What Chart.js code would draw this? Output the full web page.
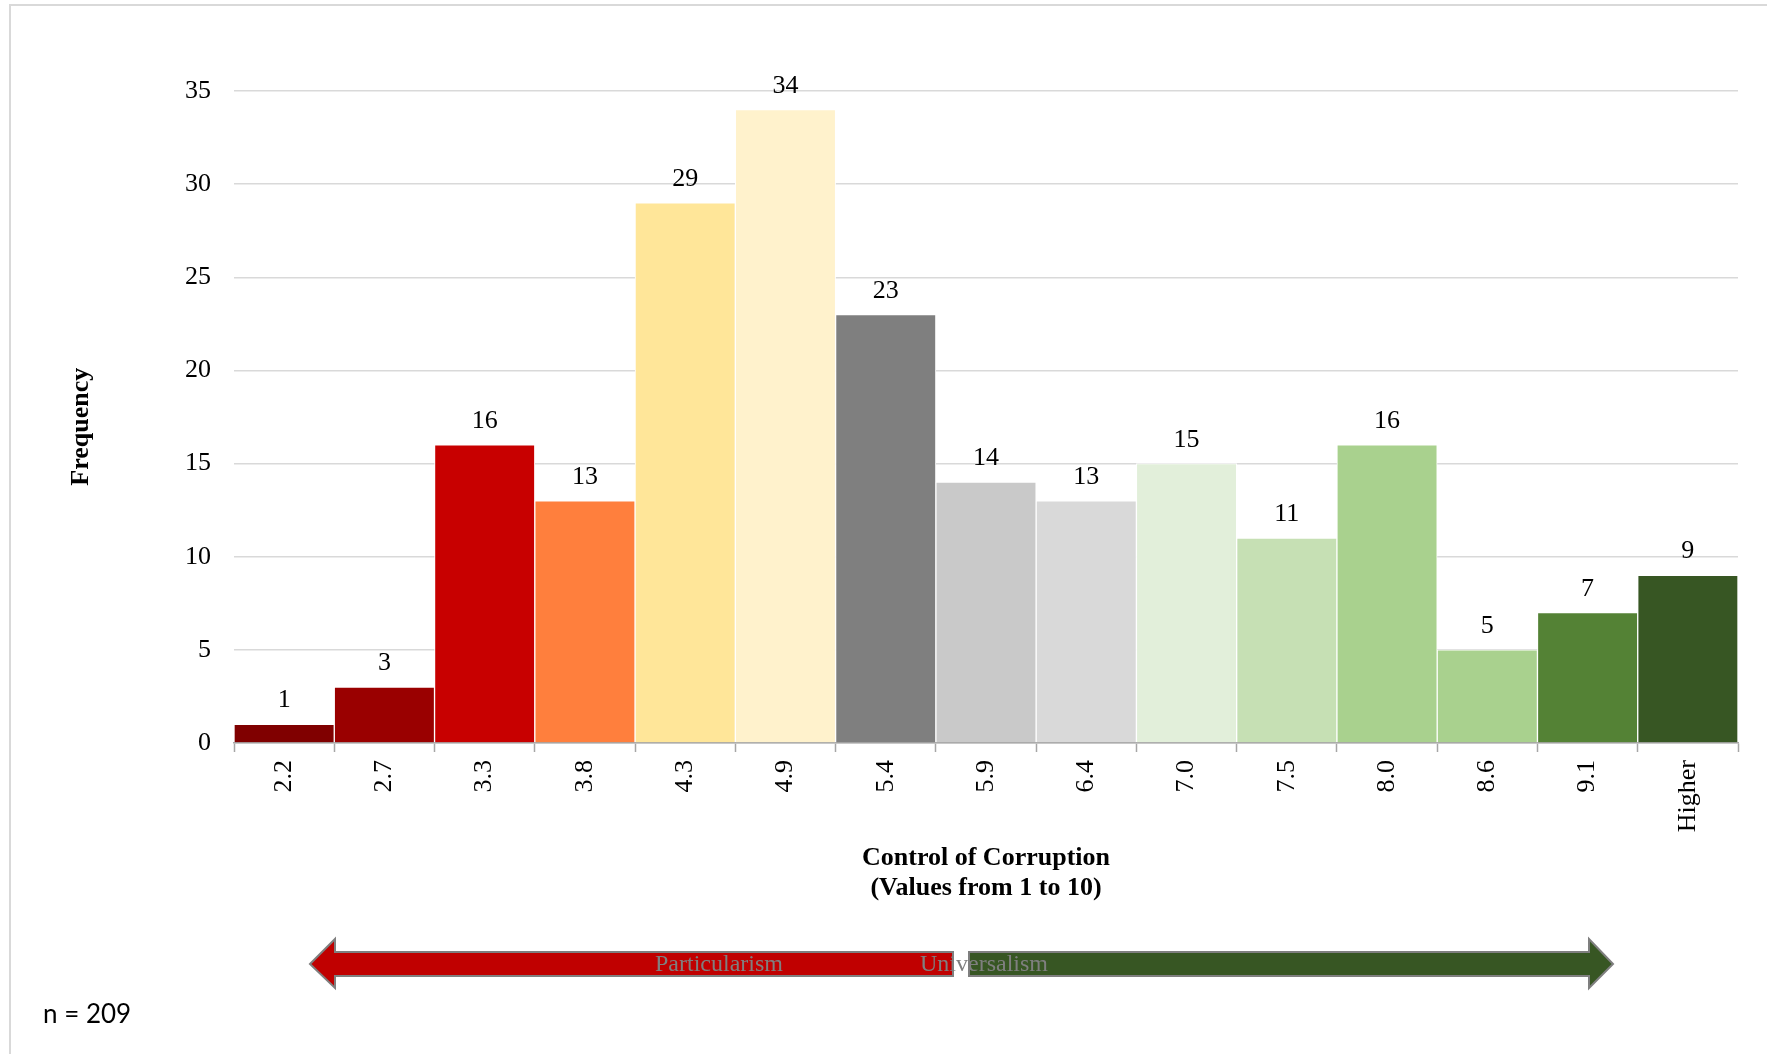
<!DOCTYPE html>
<html>
<head>
<meta charset="utf-8">
<script src="https://cdn.jsdelivr.net/npm/chart.js@4/dist/chart.umd.min.js"></script>
<style>
  html, body { margin: 0; padding: 0; background: #fff; }
  #wrap { position: relative; width: 1767px; height: 1054px; }
  #frame { position: absolute; left: 9px; top: 4px; right: 0; bottom: 0;
           border-top: 2px solid #d9d9d9; border-left: 2px solid #d9d9d9; pointer-events: none; }
  canvas { position: absolute; left: 0; top: 0; }
</style>
</head>
<body>
<div id="wrap">
  <canvas id="chart" width="1767" height="1054"></canvas>
  <div id="frame"></div>
</div>
<script>
// Daten
const categories = ['2.2', '2.7', '3.3', '3.8', '4.3', '4.9', '5.4', '5.9', '6.4', '7.0', '7.5', '8.0', '8.6', '9.1', 'Higher'];
const frequencies = [1, 3, 16, 13, 29, 34, 23, 14, 13, 15, 11, 16, 5, 7, 9];
const yTicks = [0, 5, 10, 15, 20, 25, 30, 35];
const sampleNote = 'n = 209';

// Farben (rot -> gelb -> grau -> grün)
const barColors = ['#800000', '#9a0000', '#c80000', '#ff7f3d', '#ffe699', '#fff2cc', '#7f7f7f',
                   '#c9c9c9', '#d9d9d9', '#e2efda', '#c6e0b4', '#a9d18e', '#a9d18e', '#548235', '#375623'];

const serif = "'Liberation Serif', 'Times New Roman', serif";

// Werte über den Balken
const valueLabels = {
    id: 'valueLabels',
    afterDatasetsDraw(chart) {
        const ctx = chart.ctx;
        const meta = chart.getDatasetMeta(0);
        ctx.save();
        ctx.font = '26px ' + serif;
        ctx.fillStyle = '#000';
        ctx.textAlign = 'center';
        ctx.textBaseline = 'alphabetic';
        meta.data.forEach((bar, i) => {
            ctx.fillText(String(frequencies[i]), bar.x, bar.y - 17);
        });
        ctx.restore();
    }
};

// Pfeile Partikularismus / Universalismus + n
const arrows = {
    id: 'arrows',
    afterDraw(chart) {
        const ctx = chart.ctx;
        const cy = 964, shaftTop = 952, shaftBot = 976, headTop = 939, headBot = 988;
        ctx.save();
        ctx.lineWidth = 2;
        ctx.strokeStyle = '#7f7f7f';
        ctx.lineJoin = 'miter';

        // roter Pfeil nach links
        ctx.beginPath();
        ctx.moveTo(310, cy);
        ctx.lineTo(335, headTop);
        ctx.lineTo(335, shaftTop);
        ctx.lineTo(953, shaftTop);
        ctx.lineTo(953, shaftBot);
        ctx.lineTo(335, shaftBot);
        ctx.lineTo(335, headBot);
        ctx.closePath();
        ctx.fillStyle = '#c00000';
        ctx.fill();
        ctx.stroke();

        // grüner Pfeil nach rechts
        ctx.beginPath();
        ctx.moveTo(1613, cy);
        ctx.lineTo(1589, headTop);
        ctx.lineTo(1589, shaftTop);
        ctx.lineTo(969, shaftTop);
        ctx.lineTo(969, shaftBot);
        ctx.lineTo(1589, shaftBot);
        ctx.lineTo(1589, headBot);
        ctx.closePath();
        ctx.fillStyle = '#375623';
        ctx.fill();
        ctx.stroke();

        ctx.font = '24px ' + serif;
        ctx.fillStyle = '#7f7f7f';
        ctx.textAlign = 'center';
        ctx.textBaseline = 'middle';
        ctx.fillText('Particularism', 719, cy + 1);
        ctx.fillText('Universalism', 984, cy + 1);

        ctx.font = "26px Lato, 'Noto Sans', sans-serif";
        ctx.fillStyle = '#000';
        ctx.textAlign = 'left';
        ctx.textBaseline = 'alphabetic';
        ctx.fillText(sampleNote, 43, 1023);
        ctx.restore();
    }
};

new Chart(document.getElementById('chart'), {
    type: 'bar',
    data: {
        labels: categories,
        datasets: [{
            data: frequencies,
            backgroundColor: barColors,
            borderColor: '#ffffff',
            borderWidth: 1,
            barPercentage: 1,
            categoryPercentage: 1
        }]
    },
    options: {
        responsive: false,
        devicePixelRatio: 1,
        animation: false,
        layout: { padding: { top: 91, right: 29, bottom: 151, left: 0 } },
        plugins: {
            legend: { display: false },
            tooltip: { enabled: false }
        },
        scales: {
            x: {
                grid: { display: true, drawOnChartArea: false, drawTicks: true, tickLength: 9,
                        tickColor: '#a6a6a6', tickWidth: 1.5, offset: true },
                border: { display: true, color: '#a6a6a6', width: 1.5 },
                ticks: {
                    autoSkip: false, minRotation: 90, maxRotation: 90, padding: 8,
                    color: '#000', font: { family: serif, size: 26 }
                },
                title: {
                    display: true,
                    text: ['Control of Corruption', '(Values from 1 to 10)'],
                    color: '#000',
                    font: { family: serif, size: 26, weight: 'bold', lineHeight: '30px' },
                    padding: { top: 0, bottom: 0 }
                },
                afterFit(scale) { scale.height = 160; }
            },
            y: {
                min: 0, max: 35,
                afterBuildTicks(scale) { scale.ticks = yTicks.map(v => ({ value: v })); },
                grid: { color: '#d9d9d9', lineWidth: 1.5, drawTicks: false },
                border: { display: false },
                ticks: { padding: 23, color: '#000', font: { family: serif, size: 26 } },
                title: {
                    display: true, text: 'Frequency   ', color: '#000',
                    font: { family: serif, size: 26, weight: 'bold', lineHeight: 1.2 },
                    padding: { top: 66, bottom: 0 }
                },
                afterFit(scale) { scale.width = 234; }
            }
        }
    },
    plugins: [valueLabels, arrows]
});
</script>
</body>
</html>
